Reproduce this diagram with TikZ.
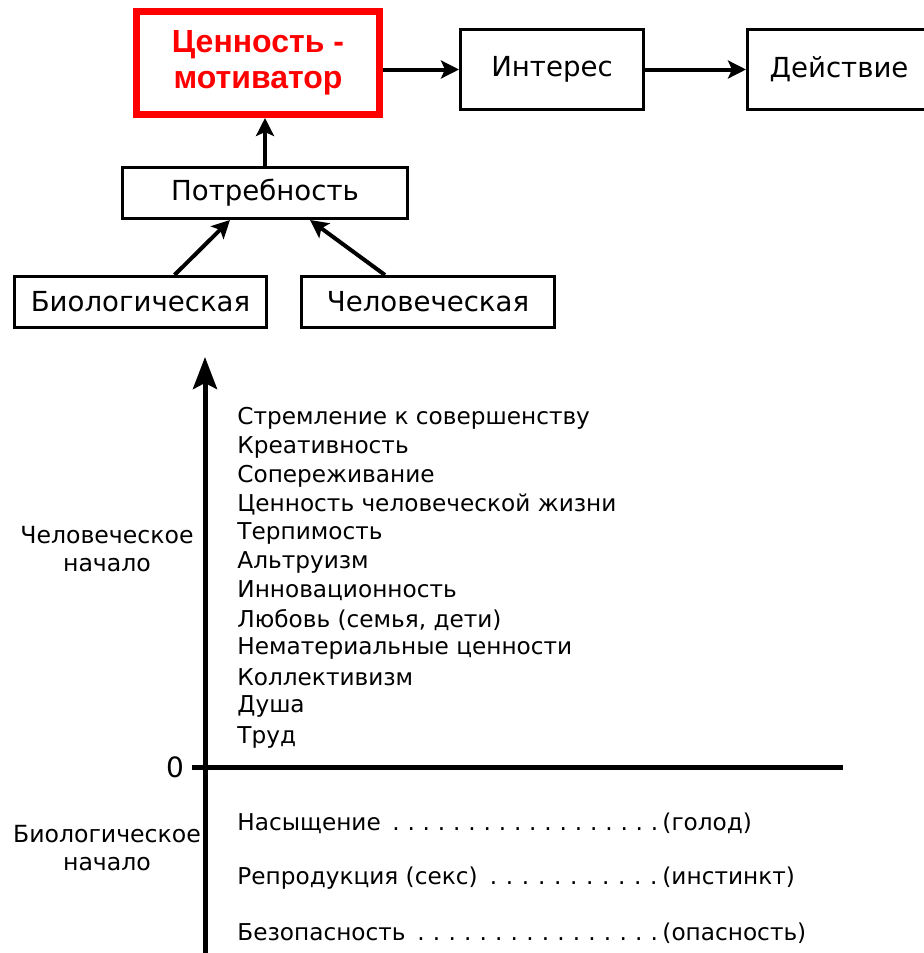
\documentclass[tikz,border=0pt]{standalone}
\usepackage{fontspec}
\setmainfont{DejaVu Sans}
\newfontfamily\redfont{Liberation Sans}
\usetikzlibrary{arrows.meta,calc}
\tikzset{
  box/.style={draw, line width=1.5pt, inner sep=0pt, font=\fontsize{13.8}{16}\selectfont},
  redbox/.style={draw=red, line width=3.5pt, inner sep=0pt, align=center, text=red,
    font=\redfont\bfseries\fontsize{16}{18}\selectfont},
  arr/.style={line width=2pt, -{Stealth[length=9pt,width=9pt,inset=2pt]}},
  item/.style={anchor=west, inner sep=0pt, font=\fontsize{11.6}{13}\selectfont},
  side/.style={align=center, inner sep=0pt, font=\fontsize{11.8}{14.3}\selectfont}
}
\newcommand{\dotrow}[2]{\hbox to 212.5pt{#1\xleaders\hbox to 7.4pt{\hss.\hss}\hfill}#2}

\begin{document}
\begin{tikzpicture}[x=0.5pt, y=-0.5pt]
		%%%%% START %%%%%
		\useasboundingbox (0, 0) rectangle (924, 953);
		
		\node[redbox, minimum width=121.5pt, minimum height=51.5pt] (value) at (258, 63) {Ценность -\\мотиватор};
		\node[box, minimum width=91.5pt, minimum height=40pt] (interest) at (552, 69.5) {Интерес};
		\node[box, minimum width=91.5pt, minimum height=40pt] (action) at (839, 69.5) {Действие};
		
		\node[box, minimum width=142.5pt, minimum height=25.5pt] (need) at (265, 193) {Потребность};
		\node[box, minimum width=126pt, minimum height=25.5pt] (bio) at (140.5, 302) {Биологическая};
		\node[box, minimum width=126.5pt, minimum height=25.5pt] (human) at (428, 302) {Человеческая};
		
		\draw[arr] (value.east |- interest.west) -- (interest.west);
		\draw[arr] (interest) -- (action);
		\draw[arr] (need.north) -- (need.north |- value.south);
		\draw[arr] ([xshift=17pt]bio.north) -- ([xshift=-17.5pt]need.south);
		\draw[arr] ([xshift=-21.5pt]human.north) -- ([xshift=22.5pt]need.south);
		
		% axes
		\coordinate (ybot) at (205, 953);
		\coordinate (ytop) at (205, 357);
		\coordinate (xleft) at (192, 767);
		\coordinate (xright) at (843, 767);
		\draw[line width=2.5pt, -{Stealth[length=16pt,width=12pt,inset=3pt]}] (ybot) -- (ytop);
		\draw[line width=2.5pt] (xleft) -- (xright);
		\node[inner sep=0pt, font=\fontsize{14}{16}\selectfont] (zero) at (175, 767) {0};
		
		\node[side] (humanside) at (107, 549) {Человеческое\\начало};
		\node[side] (bioside) at (107, 848) {Биологическое\\начало};
		
		\node[item] (h1) at (237, 418) {Стремление к совершенству};
		\node[item] (h2) at (237, 447) {Креативность};
		\node[item] (h3) at (237, 476) {Сопереживание};
		\node[item] (h4) at (237, 504) {Ценность человеческой жизни};
		\node[item] (h5) at (237, 533) {Терпимость};
		\node[item] (h6) at (237, 562) {Альтруизм};
		\node[item] (h7) at (237, 591) {Инновационность};
		\node[item] (h8) at (237, 620) {Любовь (семья, дети)};
		\node[item] (h9) at (237, 648) {Нематериальные ценности};
		\node[item] (h10) at (237, 677) {Коллективизм};
		\node[item] (h11) at (237, 706) {Душа};
		\node[item] (h12) at (237, 737) {Труд};
		
		\node[item] (b1) at (237, 823) {\dotrow{Насыщение }{(голод)}};
		\node[item] (b2) at (237, 878) {\dotrow{Репродукция (секс) }{(инстинкт)}};
		\node[item] (b3) at (237, 933) {\dotrow{Безопасность }{(опасность)}};
		%%%%% END %%%%%
\end{tikzpicture}
\end{document}
